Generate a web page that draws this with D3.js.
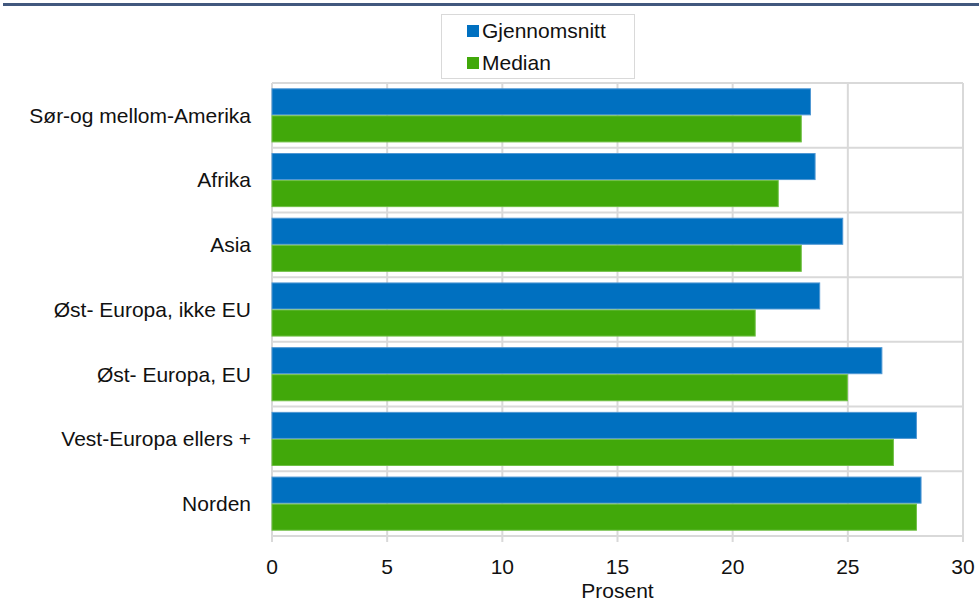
<!DOCTYPE html>
<html>
<head>
<meta charset="utf-8">
<script src="https://cdn.jsdelivr.net/npm/d3@7"></script>
<style>
  body { margin: 0; background: #fff; }
  text { font-family: "Liberation Sans", Arial, sans-serif; fill: #111; }
</style>
</head>
<body>
<svg id="chart" width="979" height="601"></svg>
<script>
var width = 979;
var height = 601;

// categories, top to bottom
var categories = ["Sør-og mellom-Amerika", "Afrika", "Asia", "Øst- Europa, ikke EU",
                  "Øst- Europa, EU", "Vest-Europa ellers +", "Norden"];
var gjennomsnitt = [23.4, 23.6, 24.8, 23.8, 26.5, 28.0, 28.2];
var median = [23, 22, 23, 21, 25, 27, 28];
var seriesNames = ["Gjennomsnitt", "Median"];
var seriesColors = ["#0070c0", "#41a80a"];
var edgeColors = ["#4f97d3", "#6fbf45"];
var xTicks = [0, 5, 10, 15, 20, 25, 30];

var margin = {top: 83, left: 272, right: 16, bottom: 65};
var plotW = width - margin.left - margin.right;
var plotH = height - margin.top - margin.bottom;
var fs = 21;

var svg = d3.select("#chart");

// top rule
svg.append("rect")
    .attr("x", 3).attr("y", 3)
    .attr("width", width - 3).attr("height", 3)
    .attr("fill", "#41587e");

var x = d3.scaleLinear().domain([0, 30]).range([0, plotW]);
var y = d3.scaleBand().domain(categories).range([0, plotH]).paddingInner(0).paddingOuter(0);
var inner = d3.scaleBand().domain(seriesNames).range([5.3, y.bandwidth() - 5.3]).padding(0);

var g = svg.append("g").attr("transform", "translate(" + margin.left + "," + margin.top + ")");

// grid
g.selectAll("line.vgrid").data(xTicks).enter().append("line")
    .attr("x1", function(d) { return x(d); }).attr("x2", function(d) { return x(d); })
    .attr("y1", 0).attr("y2", plotH + 6)
    .attr("stroke", "#d9d9d9").attr("stroke-width", 2);

var hLines = d3.range(categories.length + 1);
g.selectAll("line.hgrid").data(hLines).enter().append("line")
    .attr("x1", 0).attr("x2", plotW)
    .attr("y1", function(i) { return i * y.step(); })
    .attr("y2", function(i) { return i * y.step(); })
    .attr("stroke", "#d9d9d9").attr("stroke-width", 2);

// bars
var rows = categories.map(function(c, i) {
    return {cat: c, values: [gjennomsnitt[i], median[i]]};
});

var row = g.selectAll("g.row").data(rows).enter().append("g")
    .attr("transform", function(d) { return "translate(0," + y(d.cat) + ")"; });

row.selectAll("rect").data(function(d) {
    return d.values.map(function(v, j) { return {name: seriesNames[j], value: v, j: j}; });
}).enter().append("rect")
    .attr("x", 0)
    .attr("y", function(d) { return inner(d.name) + 0.5; })
    .attr("width", function(d) { return x(d.value) - 0.5; })
    .attr("height", inner.bandwidth() - 1)
    .attr("fill", function(d) { return seriesColors[d.j]; })
    .attr("stroke", function(d) { return edgeColors[d.j]; })
    .attr("stroke-width", 1);

// category labels
g.selectAll("text.cat").data(categories).enter().append("text")
    .attr("x", -21)
    .attr("y", function(d) { return y(d) + y.bandwidth() / 2; })
    .attr("dy", "0.35em")
    .attr("text-anchor", "end")
    .attr("font-size", fs)
    .text(function(d) { return d; });

// x tick labels
g.selectAll("text.tick").data(xTicks).enter().append("text")
    .attr("x", function(d) { return x(d); })
    .attr("y", plotH + 31)
    .attr("dy", "0.35em")
    .attr("text-anchor", "middle")
    .attr("font-size", fs)
    .text(function(d) { return d; });

g.append("text")
    .attr("x", plotW / 2)
    .attr("y", plotH + 55)
    .attr("dy", "0.35em")
    .attr("text-anchor", "middle")
    .attr("font-size", fs)
    .text("Prosent");

// legend
var legend = svg.append("g").attr("transform", "translate(441,14)");
legend.append("rect")
    .attr("x", 0.5).attr("y", 0.5).attr("width", 193).attr("height", 64)
    .attr("fill", "#fff").attr("stroke", "#d9d9d9");

var li = legend.selectAll("g.item").data(seriesNames).enter().append("g")
    .attr("transform", function(d, i) { return "translate(26," + (17 + i * 32) + ")"; });
li.append("rect")
    .attr("x", 0).attr("y", -6).attr("width", 12).attr("height", 12)
    .attr("fill", function(d, i) { return seriesColors[i]; });
li.append("text")
    .attr("x", 15).attr("y", 0).attr("dy", "0.35em")
    .attr("font-size", fs)
    .text(function(d) { return d; });
</script>
</body>
</html>
